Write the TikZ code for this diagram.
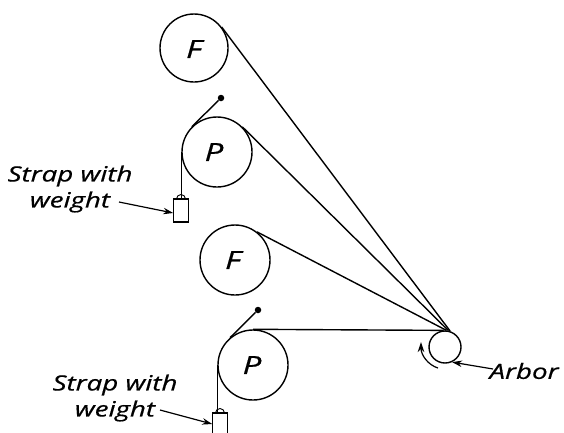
\documentclass[tikz,border=0pt]{standalone}
\usepackage{fontspec}
\setmainfont{Open Sans}
\newfontfamily\hand[FakeStretch=1.32,FakeBold=0.6]{Open Sans}
\usetikzlibrary{arrows.meta}
\begin{document}
\begin{tikzpicture}[x=1pt,y=-1pt,
  wheel/.style={circle,draw,line width=1.4pt,inner sep=0pt,minimum size=#1},
  strapline/.style={line width=1.4pt},
  weightbox/.style={draw,line width=1.1pt,fill=white,inner sep=0pt,minimum width=14.5pt,minimum height=23pt},
  pin/.style={circle,fill=black,inner sep=0pt,minimum size=6.5pt},
  lab/.style={font=\hand\itshape\fontsize{21}{26}\selectfont,align=center,inner sep=0pt},
  wheellab/.style={font=\hand\itshape\fontsize{25}{30}\selectfont,inner sep=0pt},
  pointer/.style={line width=1.2pt,-{Stealth[length=10pt,width=6.5pt]}}]
\useasboundingbox (0,0) rectangle (564,432);
\node[wheel=68pt] (F1) at (194,48) {};
\node[wheel=70pt] (P1) at (217,152) {};
\node[wheel=70pt] (F2) at (235,260) {};
\node[wheel=70pt] (P2) at (253,365) {};
\node[wheel=32pt] (A) at (445,347) {};
\node[wheellab] at (194,49) {F};
\node[wheellab] at (214,152) {P};
\node[wheellab] at (233,260) {F};
\node[wheellab] at (252,365) {P};
\node[pin] (D1) at (221,98) {};
\node[pin] (D2) at (258,310) {};
\node[weightbox] (W1) at (181,210.5) {};
\node[weightbox,minimum height=24pt] (W2) at (220,425) {};
\draw[strapline] (F1.37) -- (A.72);
\draw[strapline] (P1.45) -- (A.78);
\draw[strapline] (F2.52) -- (A.85);
\draw[strapline] (P2.90) -- (A.95);
\draw[strapline] (P1.135) -- (D1);
\draw[strapline] (P2.130) -- (D2);
\draw[strapline] (P1.180) -- (P1.180 |- W1.north);
\draw[strapline] (P2.180) -- (P2.180 |- W2.north);
\draw[line width=.9pt] (176.5,199) arc[start angle=180,end angle=360,radius=4.5];
\draw[line width=.9pt] (215.5,413) arc[start angle=180,end angle=360,radius=4.5];
\node[lab] (S1) at (70,189) {Strap with\\weight};
\node[lab] (S2) at (115,398) {Strap with\\weight};
\node[lab] (AL) at (524,371) {Arbor};
\coordinate (S1e) at (119,202);
\coordinate (S2e) at (160,410);
\coordinate (ALe) at (493,369);
\draw[pointer] (S1e) -- (W1.west |- 0,213);
\draw[pointer] (S2e) -- (W2.west |- 0,424);
\draw[pointer] (ALe) -- (A.-65);
\coordinate (c1) at (438,368);
\coordinate (c2) at (421,342);
\draw[pointer] (c1) .. controls (428,365) and (421,355) .. (c2);
\end{tikzpicture}
\end{document}
